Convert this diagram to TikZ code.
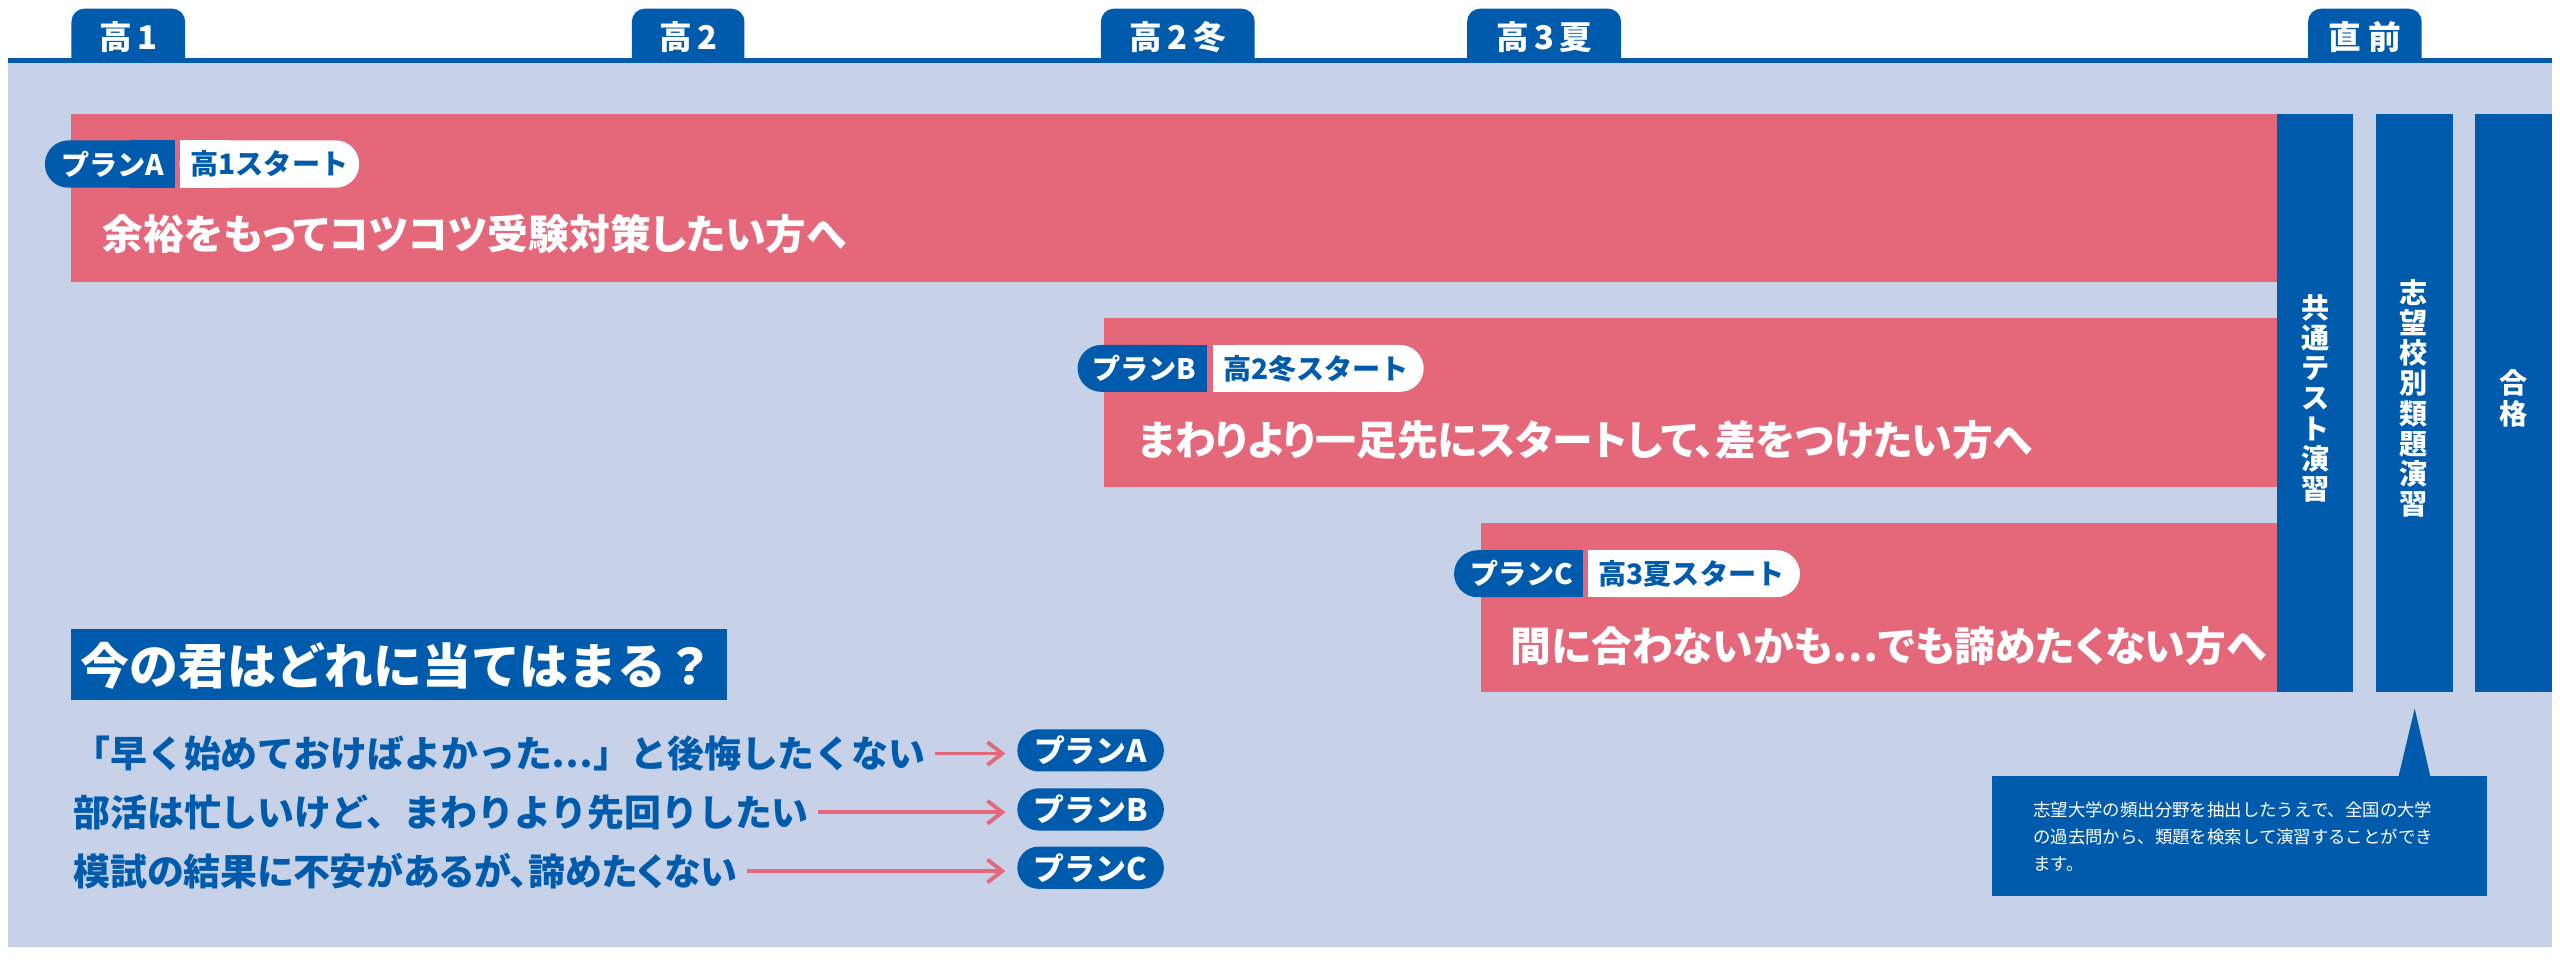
\documentclass[tikz,border=0pt]{standalone}
\usepackage{fontspec}
\setmainfont{Noto Sans CJK JP}
\newfontfamily\jpp{Noto Sans CJK JP}[RawFeature=+palt]
\usetikzlibrary{arrows.meta}
\definecolor{bl}{RGB}{0,91,172}
\definecolor{pk}{RGB}{229,104,122}
\definecolor{bgc}{RGB}{199,210,233}
\begin{document}
\begin{tikzpicture}[x=0.016327cm,y=-0.016327cm,
  tabtxt/.style={text=white,font=\bfseries\fontsize{9.3pt}{11pt}\selectfont,inner sep=0pt},
  bartxt/.style={text=white,font=\jpp\bfseries\fontsize{11.6pt}{14pt}\selectfont,inner sep=0pt,anchor=west},
  lbltxt/.style={font=\bfseries\fontsize{8pt}{9pt}\selectfont,inner sep=0pt},
  vtxt/.style={text=white,font=\bfseries\fontsize{8pt}{8.6pt}\selectfont,inner sep=0pt,align=center},
  qtxt/.style={text=white,font=\bfseries\fontsize{13.9pt}{16pt}\selectfont,inner sep=0pt,anchor=west},
  listtxt/.style={text=bl,font=\bfseries\fontsize{10.5pt}{12pt}\selectfont,inner sep=0pt,anchor=west},
  planpill/.style={fill=bl,text=white,rounded corners=6pt,minimum width=41.7pt,minimum height=12pt,inner sep=0pt,font=\bfseries\fontsize{8.8pt}{10pt}\selectfont},
  notetxt/.style={text=white,font=\fontsize{4.95pt}{7.65pt}\selectfont,inner sep=0pt,anchor=west,align=left},
  arr/.style={draw=pk,line width=1.1pt,-{Straight Barb[length=4.2pt,width=6.5pt]}},
]
\useasboundingbox (0,0) rectangle (1568,593);
% tabs
\fill[bl,rounded corners=3.7pt] (43.75,5.3) rectangle (113.4,45);
\fill[bl,rounded corners=3.7pt] (387,5.3) rectangle (456,45);
\fill[bl,rounded corners=3.7pt] (674.3,5.3) rectangle (768.5,45);
\fill[bl,rounded corners=3.7pt] (898.6,5.3) rectangle (992.9,45);
\fill[bl,rounded corners=3.7pt] (1413.7,5.3) rectangle (1483.3,45);
\node[tabtxt] (tab1) at (78.6,22.5) {高\hspace{1.5pt}1};
\node[tabtxt] (tab2) at (421.5,22.5) {高\hspace{1.5pt}2};
\node[tabtxt] (tab3) at (721.4,22.5) {高\hspace{1.5pt}2\hspace{1.5pt}冬};
\node[tabtxt] (tab4) at (945.7,22.5) {高\hspace{1.5pt}3\hspace{1.5pt}夏};
\node[tabtxt] (tab5) at (1448.5,22.5) {直\hspace{2pt}前};
% line and background
\fill[bl] (5,35.7) rectangle (1563,38.8);
\fill[bgc] (5,38.8) rectangle (1563,580);
% pink bars
\fill[pk] (43.75,69.7) rectangle (1394.8,172.5);
\fill[pk] (676,195) rectangle (1394.8,298);
\fill[pk] (907,320.5) rectangle (1394.8,424);
% blue bars
\fill[bl] (1394.8,69.7) rectangle (1441.4,424);
\fill[bl] (1455.3,69.7) rectangle (1502.3,424);
\fill[bl] (1516,69.7) rectangle (1563,424);
\node[vtxt] (v1) at (1418,244) {共\\通\\テ\\ス\\ト\\演\\習};
\node[vtxt] (v2) at (1478.5,244) {志\\望\\校\\別\\類\\題\\演\\習};
\node[vtxt] (v3) at (1539.5,244) {合\\格};
% plan A label
\fill[bl,rounded corners=6.7pt] (27.5,86) rectangle (107,115);
\fill[bl] (80,86) rectangle (107,115);
\fill[white,rounded corners=6.7pt] (110,86) rectangle (220,115);
\fill[white] (110,86) rectangle (140,115);
\node[lbltxt,text=white] (la1) at (69,100.5) {プランA};
\node[lbltxt,text=bl] (la2) at (165,100.5) {高1スタート};
\node[bartxt] (ta) at (62.5,143.5) {余裕をもってコツコツ受験対策したい方へ};
% plan B label
\fill[bl,rounded corners=6.7pt] (660,211.3) rectangle (739,240);
\fill[bl] (710,211.3) rectangle (739,240);
\fill[white,rounded corners=6.7pt] (743,211.3) rectangle (872,240);
\fill[white] (743,211.3) rectangle (780,240);
\node[lbltxt,text=white] (lb1) at (701,225.6) {プランB};
\node[lbltxt,text=bl] (lb2) at (806,225.6) {高2冬スタート};
\node[bartxt] (tb) at (696.6,269.3) {まわりより一足先にスタートして、差をつけたい方へ};
% plan C label
\fill[bl,rounded corners=6.7pt] (890.6,337) rectangle (969.5,365.8);
\fill[bl] (940,337) rectangle (969.5,365.8);
\fill[white,rounded corners=6.7pt] (972.6,337) rectangle (1102.5,365.8);
\fill[white] (972.6,337) rectangle (1010,365.8);
\node[lbltxt,text=white] (lc1) at (932,351.4) {プランC};
\node[lbltxt,text=bl] (lc2) at (1036,351.4) {高3夏スタート};
\node[bartxt] (tc) at (925,395.5) {間に合わないかも⋯でも諦めたくない方へ};
% question
\fill[bl] (43.6,385.5) rectangle (445,428.8);
\node[qtxt] (q) at (49,407.5) {今の君はどれに当てはまる？};
% list
\node[listtxt] (l1) at (44.5,461.5) {「早く始めておけばよかった⋯」と後悔したくない};
\node[listtxt] (l2) at (44.5,497.5) {部活は忙しいけど、まわりより先回りしたい};
\node[listtxt,font=\jpp\bfseries\fontsize{10.5pt}{12pt}\selectfont] (l3) at (44.5,533.5) {模試の結果に不安があるが、諦めたくない};
\node[planpill] (pA) at (668,459.6) {プランA};
\node[planpill] (pB) at (668,495.8) {プランB};
\node[planpill] (pC) at (668,531.5) {プランC};
\draw[arr,shorten <=2.5pt,shorten >=3.2pt] (l1.east) -- (l1.east -| pA.west);
\draw[arr,shorten <=2.5pt,shorten >=3.2pt] (l2.east) -- (l2.east -| pB.west);
\draw[arr,shorten <=2.5pt,shorten >=3.2pt] (l3.east) -- (l3.east -| pC.west);
% callout
\fill[bl] (1469,476) -- (1479,434) -- (1488.7,476) -- cycle;
\fill[bl] (1220,475) rectangle (1523,549);
\node[notetxt] (note) at (1245,512.5) {志望大学の頻出分野を抽出したうえで、全国の大学\\の過去問から、類題を検索して演習することができ\\ます。};
\end{tikzpicture}
\end{document}
